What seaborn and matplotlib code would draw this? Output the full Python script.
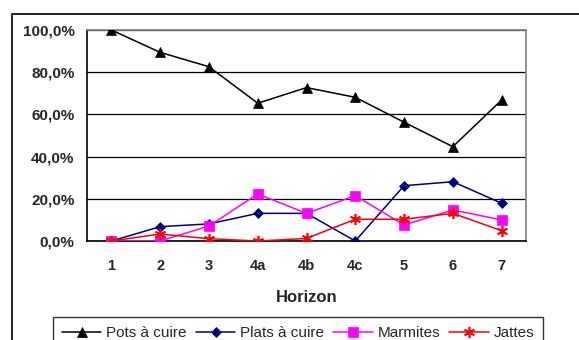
import numpy as np
import pandas as pd
import seaborn as sns
import matplotlib
matplotlib.use("Agg")
import matplotlib.pyplot as plt
from matplotlib.patches import Rectangle
from matplotlib.ticker import FuncFormatter, FixedLocator

horizons = ["1", "2", "3", "4a", "4b", "4c", "5", "6", "7"]
pots = [100.0, 89.4, 82.6, 65.3, 72.7, 68.1, 56.3, 44.7, 66.8]
plats = [0.0, 6.8, 8.1, 13.1, 13.1, 0.0, 26.2, 28.1, 17.9]
marmites = [0.0, 0.0, 7.1, 22.3, 13.1, 21.5, 7.6, 14.7, 10.0]
jattes = [0.0, 3.3, 1.1, 0.0, 1.2, 10.3, 10.3, 13.1, 4.9]
series_names = ["Pots à cuire", "Plats à cuire", "Marmites", "Jattes"]

sns.set_style("white")
plt.rcParams["font.family"] = ["Liberation Sans", "DejaVu Sans"]

rows = []
for name, vals in zip(series_names, [pots, plats, marmites, jattes]):
    for i, (h, v) in enumerate(zip(horizons, vals)):
        rows.append({"pos": i, "Horizon": h, "serie": name, "val": v / 100.0})
df = pd.DataFrame(rows)

fig = plt.figure(figsize=(5.79, 3.40), dpi=100)
ax = fig.add_axes([87/579, 1-241/340, (526-87)/579, (241-30)/340])

palette = {"Pots à cuire": "#000000", "Plats à cuire": "#000080",
           "Marmites": "#FF00FF", "Jattes": "#FF0000"}
markers = {"Pots à cuire": "^", "Plats à cuire": "D",
           "Marmites": "s", "Jattes": (6, 2, 0)}
msizes = {"Pots à cuire": 7.5, "Plats à cuire": 5.5, "Marmites": 6.5, "Jattes": 8}

for name in series_names:
    sub = df[df["serie"] == name]
    sns.lineplot(data=sub, x="pos", y="val", ax=ax, color=palette[name],
                 marker=markers[name], markersize=msizes[name],
                 markeredgecolor=palette[name], markerfacecolor=palette[name],
                 markeredgewidth=1.2 if name == "Jattes" else 0.5,
                 linewidth=1.1, label=name, legend=False, zorder=3)

ax.set_xlim(-0.5, len(horizons) - 0.5)
ax.set_ylim(0, 1.0)
ax.set_xticks(range(len(horizons)))
ax.set_xticklabels(horizons, fontsize=10.5, fontweight="bold")
ax.xaxis.set_minor_locator(FixedLocator(np.arange(-0.5, len(horizons), 1.0)))
ax.tick_params(axis="x", which="major", length=0, pad=13)
ax.tick_params(axis="x", which="minor", length=4, width=1, direction="out", color="black")
ax.set_yticks([0, 0.2, 0.4, 0.6, 0.8, 1.0])
ax.yaxis.set_major_formatter(FuncFormatter(lambda v, p: f"{v*100:.1f}%".replace(".", ",")))
ax.tick_params(axis="y", length=4, width=1, direction="out", color="black", pad=5, labelsize=11)
for lab in ax.get_yticklabels():
    lab.set_fontweight("bold")
ax.set_xlabel("Horizon", fontsize=12, fontweight="bold", labelpad=12)
ax.set_ylabel("")
ax.grid(axis="y", color="black", linewidth=0.9)
ax.set_axisbelow(True)
for s in ["top", "right"]:
    ax.spines[s].set_color("#808080")
    ax.spines[s].set_linewidth(1.2)
for s in ["left", "bottom"]:
    ax.spines[s].set_color("black")
    ax.spines[s].set_linewidth(1.2)

handles, labels = ax.get_legend_handles_labels()
leg = fig.legend(handles, labels, loc="upper center", ncol=4,
                 bbox_to_anchor=(298/579, 1-317/340), borderaxespad=0,
                 frameon=True, fancybox=False,
                 edgecolor="black", fontsize=11, handlelength=2.6, handletextpad=0.3,
                 columnspacing=0.6, borderpad=0.6)
leg.get_frame().set_linewidth(1.0)

fig.add_artist(Rectangle((12/579, -0.2), 1.0, 1.2 - 14/340, transform=fig.transFigure,
                         fill=False, edgecolor="#222222", linewidth=1.4))

fig.savefig("out.png", dpi=100)
